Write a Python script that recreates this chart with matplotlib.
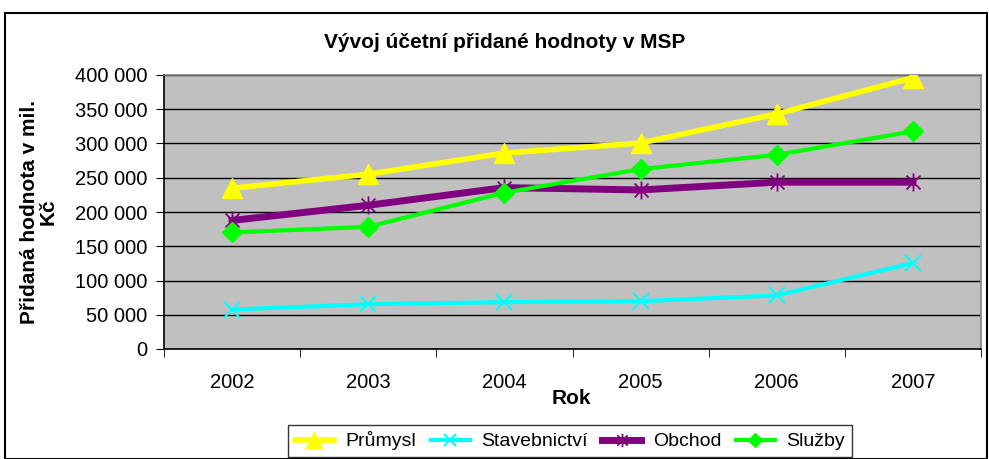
import matplotlib
matplotlib.use("Agg")
import matplotlib.pyplot as plt
from matplotlib.path import Path
from matplotlib.patches import Rectangle
from matplotlib.ticker import FuncFormatter, MultipleLocator

plt.rcParams['font.family'] = ['Liberation Sans', 'DejaVu Sans']

years = ["2002", "2003", "2004", "2005", "2006", "2007"]
prumysl = [234700, 255200, 286000, 300700, 343200, 396000]
stavebnictvi = [57600, 65400, 68400, 69800, 78200, 125600]
obchod = [187700, 209800, 235600, 232200, 243500, 243500]
sluzby = [170100, 178400, 228200, 262600, 283500, 317700]

title = "Vývoj účetní přidané hodnoty v MSP"
ylabel = "Přidaná hodnota v mil.\nKč"
xlabel = "Rok"

fig = plt.figure(figsize=(9.89, 4.59), dpi=100)
W, H = 989, 459
ax = fig.add_axes([164 / W, 1 - 349 / H, (981 - 164) / W, (349 - 75) / H])
ax.set_facecolor("#C0C0C0")

star = Path([(-1, -1), (1, 1), (-1, 1), (1, -1), (0, -1.3), (0, 1.3)],
            [Path.MOVETO, Path.LINETO, Path.MOVETO, Path.LINETO, Path.MOVETO, Path.LINETO])

x = list(range(len(years)))
ax.plot(x, prumysl, color="#FFFF00", lw=4, marker="^", ms=15, label="Průmysl", zorder=3)
ax.plot(x, stavebnictvi, color="#00FFFF", lw=3, marker="x", ms=12, mew=1.5, label="Stavebnictví", zorder=3)
ax.plot(x, obchod, color="#800080", lw=5, marker=star, ms=13, mew=1.3, mfc="none", label="Obchod", zorder=3)
ax.plot(x, sluzby, color="#00FF00", lw=3, marker="D", ms=10, label="Služby", zorder=3)

ax.set_xlim(-0.5, len(years) - 0.5)
ax.set_ylim(0, 400000)
ax.yaxis.set_major_locator(MultipleLocator(50000))
ax.yaxis.set_major_formatter(FuncFormatter(lambda v, p: f"{int(v):,}".replace(",", " ")))
ax.set_xticks(x)
ax.set_xticklabels(years)
ax.set_xticks([i - 0.5 for i in range(len(years) + 1)], minor=True)
ax.tick_params(axis="x", which="major", length=0, pad=17, labelsize=14.5)
ax.tick_params(axis="x", which="minor", length=6, color="#000000", direction="out")
ax.tick_params(axis="y", length=6, color="#000000", labelsize=14.5, pad=6)
ax.grid(axis="y", color="#000000", lw=1, zorder=1)
ax.set_axisbelow(True)
for s in ["top", "right"]:
    ax.spines[s].set_color("#808080")
    ax.spines[s].set_linewidth(1.2)
for s in ["left", "bottom"]:
    ax.spines[s].set_color("#000000")
    ax.spines[s].set_linewidth(1.2)

fig.text(505 / W, 1 - 43 / H, title, ha="center", va="center", fontsize=15, fontweight="bold")
fig.text(39 / W, 1 - 212 / H, ylabel, ha="center", va="center", rotation=90, fontsize=15,
         fontweight="bold", linespacing=1.0)
fig.text(571 / W, 1 - 398 / H, xlabel, ha="center", va="center", fontsize=15, fontweight="bold")

leg = fig.legend(loc="center", bbox_to_anchor=(570 / W, 1 - 441 / H), ncol=4, frameon=True,
                 fancybox=False, edgecolor="#000000", fontsize=14, handlelength=2.0,
                 columnspacing=0.75, handletextpad=0.6, borderpad=0.35, markerscale=0.75,
                 borderaxespad=0)
leg.get_frame().set_linewidth(1)

fig.patches.append(Rectangle((5 / W, 0), (987 - 5) / W, 1 - 13 / H, transform=fig.transFigure,
                             fill=False, edgecolor="#000000", lw=1.5))

fig.savefig("out.png", dpi=100)
